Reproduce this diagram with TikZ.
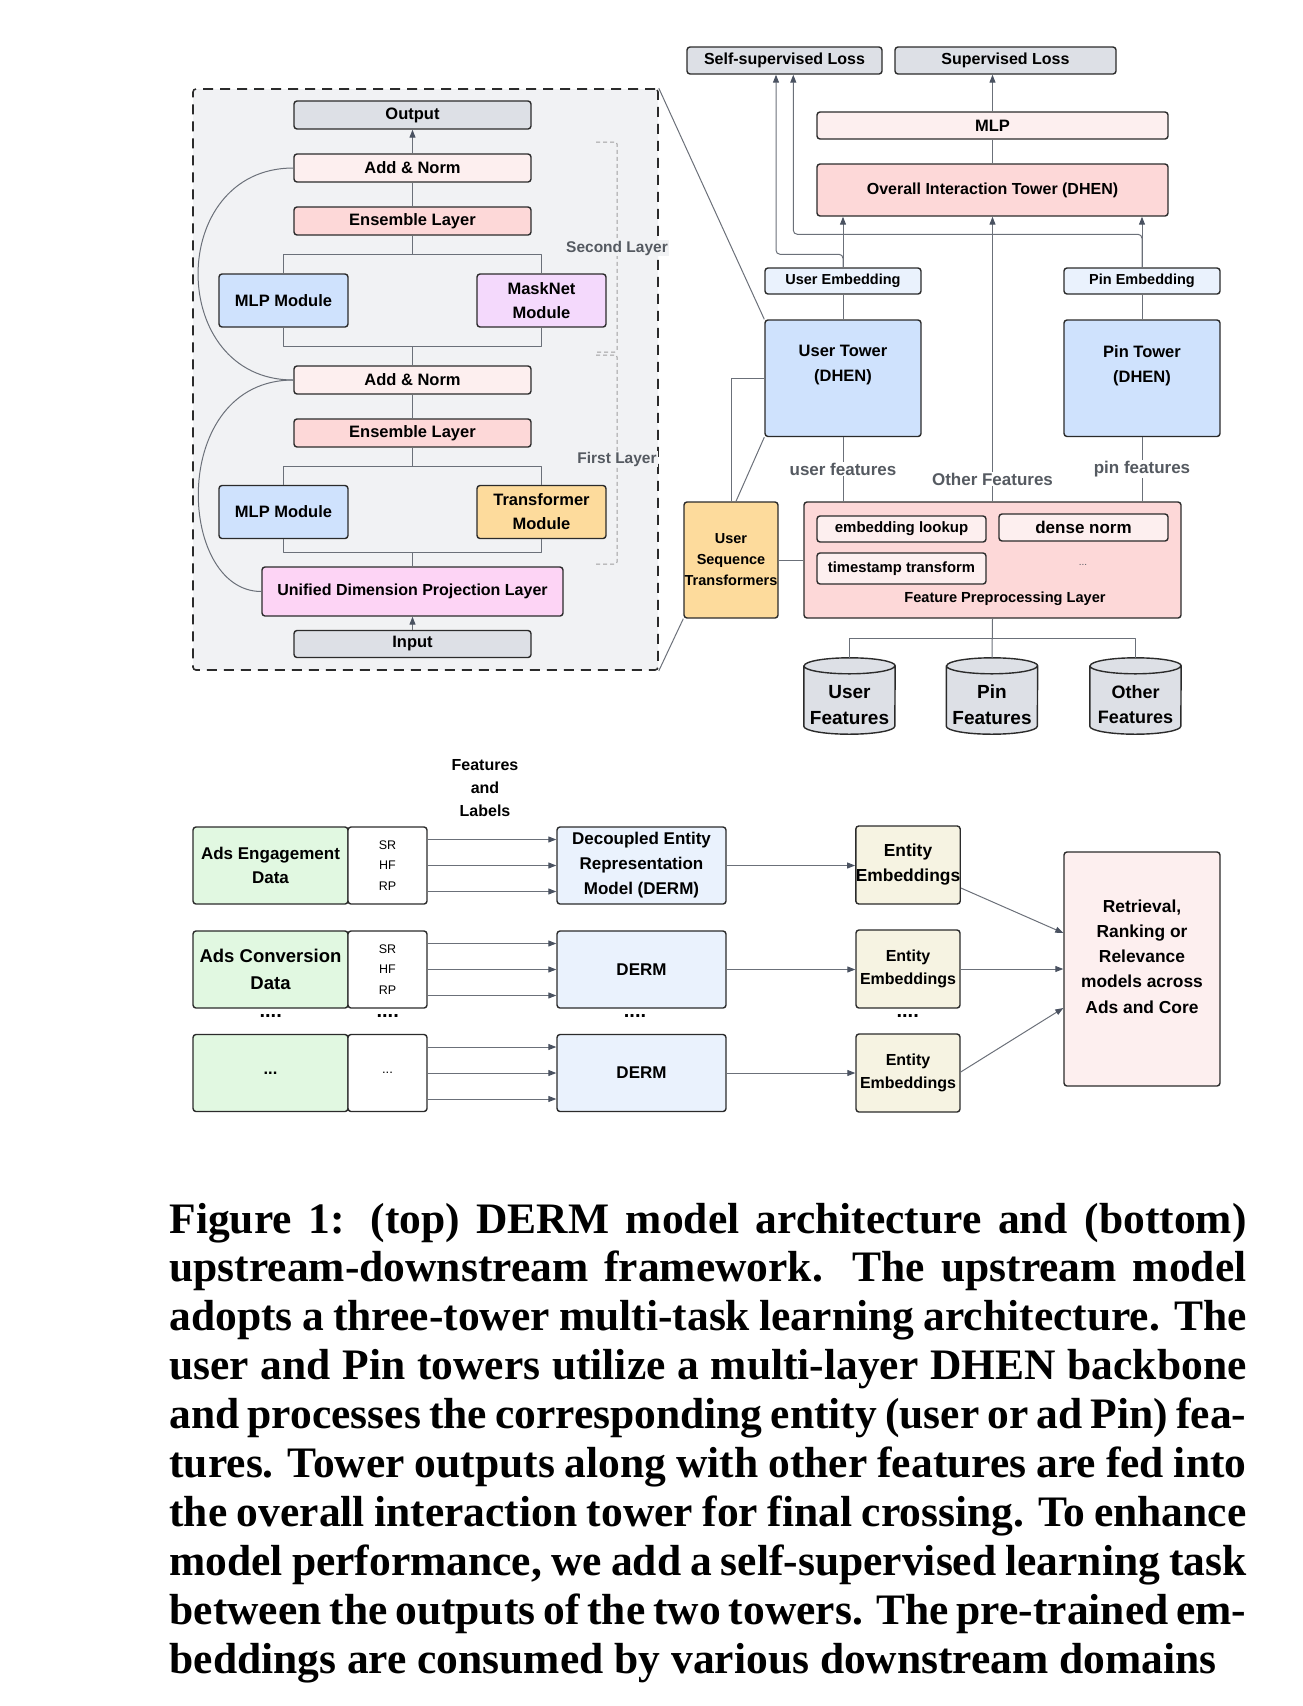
\documentclass[tikz,border=0pt]{standalone}
\usepackage{fontspec}
\setmainfont{Liberation Serif}
\setsansfont{Liberation Sans}
\usetikzlibrary{arrows.meta,calc}

\definecolor{edgec}{HTML}{2B2B2B}
\definecolor{wirec}{HTML}{6B7079}
\definecolor{tipc}{HTML}{4A5261}
\definecolor{panelc}{HTML}{F1F2F4}
\definecolor{gryc}{HTML}{DDE0E6}
\definecolor{pkc}{HTML}{FDEFEF}
\definecolor{rdc}{HTML}{FDD8D8}
\definecolor{blc}{HTML}{CFE2FD}
\definecolor{lblc}{HTML}{EAF2FD}
\definecolor{vioc}{HTML}{F4D9FC}
\definecolor{orgc}{HTML}{FDDB9C}
\definecolor{magc}{HTML}{FDD4F5}
\definecolor{grnc}{HTML}{E1F8E1}
\definecolor{bgec}{HTML}{F6F3E2}
\definecolor{labc}{HTML}{555A61}

\newcommand\fs[2]{\sffamily\bfseries\fontsize{#1}{#2}\selectfont}

\begin{document}
\begin{tikzpicture}[x=1pt, y=-1pt, line join=round,
  blk/.style={draw=edgec, line width=1.4pt, rounded corners=3pt, align=center, inner sep=0pt, font=\fs{16.5}{24}},
  wide/.style={minimum width=237pt, minimum height=28pt},
  mod/.style={minimum width=129pt, minimum height=53pt},
  wire/.style={draw=wirec, line width=1pt},
  arr/.style={wire, -{Triangle[length=8pt,width=6pt,color=tipc]}},
  brk/.style={draw=gray!75, line width=1pt, dash pattern=on 4pt off 3pt, rounded corners=2pt},
  lbl/.style={text=labc, font=\fs{16}{20}, inner sep=1pt},
  cylbox/.style={minimum width=91pt, minimum height=76pt, inner sep=0pt},
  rim/.style={x radius=45.5pt, y radius=8pt},
  captxt/.style={anchor=base west, inner sep=0pt, font=\rmfamily\bfseries\fontsize{43.5}{49}\selectfont}]
\useasboundingbox (0,0) rectangle (1302,1706);

% DHEN layers
\node[draw=edgec, line width=1.6pt, dash pattern=on 10pt off 7pt, fill=panelc, rounded corners=3pt,
  minimum width=465pt, minimum height=581pt] (frame) at (425.5,379.5) {};
\node[blk, wide, fill=gryc] (out) at (412.5,115) {Output};
\node[blk, wide, fill=pkc] (an2) at (412.5,168) {Add \& Norm};
\node[blk, wide, fill=rdc] (ens2) at (412.5,221) {Ensemble Layer};
\node[blk, mod, fill=blc] (mlp2) at (283.5,300.5) {MLP Module};
\node[blk, mod, fill=vioc] (msk) at (541.5,300.5) {MaskNet\\Module};
\node[blk, wide, fill=pkc] (an1) at (412.5,380) {Add \& Norm};
\node[blk, wide, fill=rdc] (ens1) at (412.5,433) {Ensemble Layer};
\node[blk, mod, fill=blc] (mlp1) at (283.5,512) {MLP Module};
\node[blk, mod, fill=orgc] (trf) at (541.5,512) {Transformer\\Module};
\node[blk, fill=magc, minimum width=301pt, minimum height=49pt, font=\fs{16}{20}] (udp) at (412.5,591.5) {Unified Dimension Projection Layer};
\node[blk, wide, fill=gryc, minimum height=27pt] (inp) at (412.5,644) {Input};

\draw[arr] (an2) -- (out);
\draw[wire] (ens2) -- (an2);
\draw[wire] (ens1) -- (an1);
\draw[arr] (inp) -- (udp);
\coordinate (b2) at ($(ens2.south)!.5!(ens2.south |- mlp2.north)$);
\coordinate (j2) at ($(an1.north)!.5!(an1.north |- mlp2.south)$);
\coordinate (b1) at ($(ens1.south)!.5!(ens1.south |- mlp1.north)$);
\coordinate (j1) at ($(udp.north)!.5!(udp.north |- mlp1.south)$);
\draw[wire] (ens2.south) -- (b2) (mlp2.north) |- (b2) -| (msk.north);
\draw[wire] (an1.north) -- (j2) (mlp2.south) |- (j2) -| (msk.south);
\draw[wire] (ens1.south) -- (b1) (mlp1.north) |- (b1) -| (trf.north);
\draw[wire] (udp.north) -- (j1) (mlp1.south) |- (j1) -| (trf.south);
\draw[wire] (an2.west) .. controls +(-127,0) and +(-127,0) .. (an1.west);
\draw[wire] (an1.west) .. controls +(-125,0) and +(-85,0) .. (udp.west);

\draw[brk] (596,142) -| (617,352) -- (596,352);
\draw[brk] (596,355) -| (617,564) -- (596,564);
\node[lbl, fill=panelc, font=\fs{15.5}{20}] (sec) at (617,248) {Second Layer};
\node[lbl, fill=panelc, font=\fs{15.5}{20}] (fst) at (617,459) {First Layer};

% towers
\node[blk, fill=gryc, minimum width=195pt, minimum height=27pt, font=\fs{16}{20}] (ssl) at (784.5,60.5) {Self-supervised Loss};
\node[blk, fill=gryc, minimum width=221pt, minimum height=27pt, font=\fs{16}{20}] (sl) at (1005.5,60.5) {Supervised Loss};
\node[blk, fill=pkc, minimum width=351pt, minimum height=27pt] (mlp) at (992.5,125.5) {MLP};
\node[blk, fill=rdc, minimum width=351pt, minimum height=52pt, font=\fs{16}{20}] (oit) at (992.5,190) {Overall Interaction Tower (DHEN)};
\node[blk, fill=lblc, minimum width=156pt, minimum height=26pt, font=\fs{14.5}{18}] (uemb) at (843,281) {User Embedding};
\node[blk, fill=lblc, minimum width=156pt, minimum height=26pt, font=\fs{14.5}{18}] (pemb) at (1142,281) {Pin Embedding};
\node[blk, fill=blc, minimum width=156pt, minimum height=116.5pt, font=\fs{16.5}{25}] (utw) at (843,378.25) {User Tower\\(DHEN)\\[4pt]};
\node[blk, fill=blc, minimum width=156pt, minimum height=116.5pt, font=\fs{16.5}{25}] (ptw) at (1142,378.25) {Pin Tower\\(DHEN)\\[4pt]};
\node[blk, fill=orgc, minimum width=94pt, minimum height=116pt, font=\fs{14.5}{21}] (useq) at (731,560) {User\\Sequence\\Transformers};
\node[blk, fill=rdc, minimum width=377pt, minimum height=116pt] (fpl) at (992.5,560) {};
\node[blk, fill=pkc, minimum width=169pt, minimum height=26pt, font=\fs{15}{18}] (elk) at (901.5,529) {embedding lookup};
\node[blk, fill=pkc, minimum width=169pt, minimum height=27pt, font=\fs{17}{20}] (dn) at (1083.5,527.5) {dense norm};
\node[blk, fill=pkc, minimum width=169pt, minimum height=31pt, font=\fs{14.8}{18}] (tst) at (901.5,568.5) {timestamp transform};
\node[text=labc, font=\sffamily\fontsize{10}{12}\selectfont] (etc) at (1083,565) {...};
\node[font=\fs{14.6}{18}] (fplt) at (1005,599) {Feature Preprocessing Layer};

% feature stores
\node[cylbox] (cu) at (849.5,696) {};
\node[cylbox] (cp) at (992,696) {};
\node[cylbox] (co) at (1135.5,696) {};
\foreach \c in {cu,cp,co}
  \draw[draw=edgec, fill=gryc, line width=1.4pt]
    ([yshift=-8pt]\c.north west) -- ([yshift=8pt]\c.south west) arc[start angle=180, end angle=360, rim]
    -- ([yshift=-8pt]\c.north east) arc[start angle=0, end angle=180, rim] -- cycle
    ([yshift=-8pt]\c.north west) arc[start angle=180, end angle=360, rim];
\node[font=\fs{19}{26}, align=center] (cut) at ([yshift=-9pt]cu) {User\\Features};
\node[font=\fs{19}{26}, align=center] (cpt) at ([yshift=-9pt]cp) {Pin\\Features};
\node[font=\fs{18}{25}, align=center] (cot) at ([yshift=-9pt]co) {Other\\Features};

\draw[arr] (mlp.north) -- (mlp.north |- sl.south);
\draw[wire] (oit) -- (mlp);
\draw[arr] (uemb.north) -- (uemb.north |- oit.south);
\draw[arr] (pemb.north) -- (pemb.north |- oit.south);
\draw[arr, rounded corners=4pt] (uemb.north) -- ++(0,-13) -| ([xshift=-8.5pt]ssl.south);
\draw[arr, rounded corners=4pt] (pemb.north) -- ++(0,-33) -| ([xshift=8.8pt]ssl.south);
\draw[wire] (utw) -- (uemb);
\draw[wire] (ptw) -- (pemb);
\draw[arr] (fpl.north) -- (fpl.north |- oit.south);
\draw[wire] (utw.south) -- (utw.south |- fpl.north);
\draw[wire] (ptw.south) -- (ptw.south |- fpl.north);
\node[lbl, fill=white, font=\fs{17}{20}] (uft) at (843,469) {user features};
\node[lbl, fill=white, font=\fs{17}{20}] (oft) at (992.5,479) {Other Features};
\node[lbl, fill=white, font=\fs{17}{20}] (pft) at (1142,469) {pin features};
\draw[wire] (useq.north) |- (utw.west);
\draw[wire] ([xshift=5pt]useq.north) -- (utw.south west);
\draw[wire] (useq) -- (fpl);
\draw[wire] (frame.north east) -- (utw.north west);
\draw[wire] (frame.south east) -- (useq.south west);
\coordinate (bus) at ($(fpl.south)!.5!(fpl.south |- cp.north)$);
\draw[wire] (fpl.south) -- (cp.north);
\draw[wire] (cu.north) |- (bus) -| (co.north);

% upstream / downstream
\node[font=\fs{16}{23}, align=center] (fl) at (485,788) {Features\\and\\Labels};
\node[blk, fill=grnc, minimum width=155pt, minimum height=77pt, font=\fs{17}{24.5}] (gra) at (270.5,865.5) {Ads Engagement\\Data};
\node[blk, fill=grnc, minimum width=155pt, minimum height=77pt, font=\fs{18.5}{26.5}] (grb) at (270.5,969.5) {Ads Conversion\\Data};
\node[blk, fill=grnc, minimum width=155pt, minimum height=77pt] (grc) at (270.5,1073) {...};
\node[blk, fill=white, minimum width=79pt, minimum height=77pt, font=\sffamily\fontsize{12.5}{20.7}\selectfont] (sra) at (387.5,865.5) {SR\\HF\\RP};
\node[blk, fill=white, minimum width=79pt, minimum height=77pt, font=\sffamily\fontsize{12.5}{20.7}\selectfont] (srb) at (387.5,969.5) {SR\\HF\\RP};
\node[blk, fill=white, minimum width=79pt, minimum height=77pt, font=\sffamily\fontsize{13}{20}\selectfont] (src) at (387.5,1073) {...};
\node[blk, fill=lblc, minimum width=169pt, minimum height=77pt, font=\fs{17}{25}] (dra) at (641.5,865.5) {Decoupled Entity\\Representation\\Model (DERM)};
\node[blk, fill=lblc, minimum width=169pt, minimum height=77pt, font=\fs{17}{25}] (drb) at (641.5,969.5) {DERM};
\node[blk, fill=lblc, minimum width=169pt, minimum height=77pt, font=\fs{17}{25}] (drc) at (641.5,1073) {DERM};
\node[blk, fill=bgec, minimum width=104pt, minimum height=78pt, font=\fs{17.4}{25}] (ema) at (908,865) {Entity\\Embeddings};
\node[blk, fill=bgec, minimum width=104pt, minimum height=78pt, font=\fs{16}{23}] (emb) at (908,969) {Entity\\Embeddings};
\node[blk, fill=bgec, minimum width=104pt, minimum height=78pt, font=\fs{16}{23}] (emc) at (908,1073) {Entity\\Embeddings};
\node[blk, fill=pkc, minimum width=156pt, minimum height=234pt, font=\fs{17.4}{25.2}] (ret) at (1142,969) {Retrieval,\\Ranking or\\Relevance\\models across\\Ads and Core\\~};
\foreach \p/\q in {270.7/d1, 387.7/d2, 635/d3, 907.7/d4}
  \node[font=\fs{20}{20}] (\q) at (\p,1016) {....};

\foreach \r in {a,b,c} {
  \foreach \s in {26,0,-26}
    \draw[arr] ([yshift=\s pt]sr\r.east) -- ([yshift=\s pt]dr\r.west);
  \draw[arr] (dr\r.east) -- (em\r.west |- dr\r.east);
}
\draw[arr] ([yshift=-23pt]ema.east) -- ([yshift=36pt]ret.west);
\draw[arr] (emb.east) -- (ret.west |- emb.east);
\draw[arr] ([yshift=1pt]emc.east) -- ([yshift=-39pt]ret.west);

% caption
\foreach \t [count=\i from 0] in {{Figure 1: (top) DERM model architecture and (bottom)},
  {upstream-downstream framework. The upstream model},
  {adopts a three-tower multi-task learning architecture. The},
  {user and Pin towers utilize a multi-layer DHEN backbone},
  {and processes the corresponding entity (user or ad Pin) fea-},
  {tures. Tower outputs along with other features are fed into},
  {the overall interaction tower for final crossing. To enhance},
  {model performance, we add a self-supervised learning task},
  {between the outputs of the two towers. The pre-trained em-}}
  \node[captxt] (cap\i) at (169.3,{1233+48.9*\i}) {\makebox[1077pt][s]{\t}};
\node[captxt] (cap9) at (169.3,{1233+48.9*9}) {beddings are consumed by various downstream domains};
\end{tikzpicture}
\end{document}
